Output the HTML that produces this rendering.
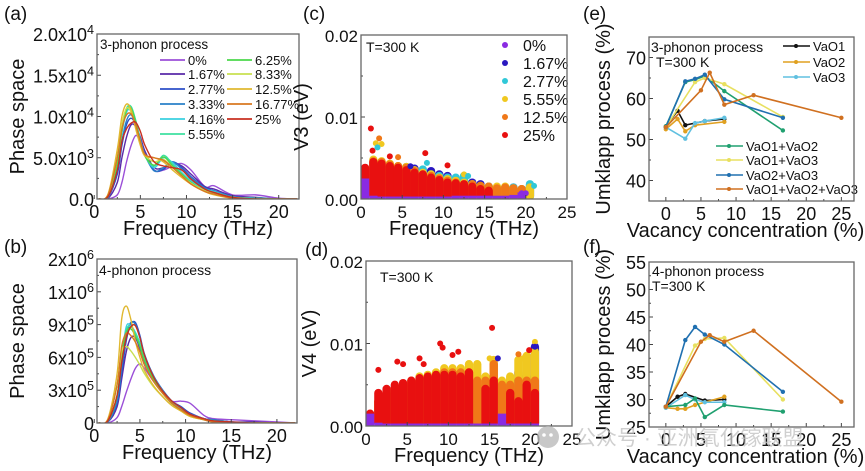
<!DOCTYPE html>
<html><head><meta charset="utf-8"><style>
html,body{margin:0;padding:0;background:#fff;}
svg{display:block;font-family:"Liberation Sans","Noto Sans CJK SC",sans-serif;}
</style></head><body>
<svg id="fig" width="865" height="471" viewBox="0 0 865 471">
<g id="root"></g>
<text x="575" y="445" font-size="21" fill="#c4c4c4" opacity="0.8">公众号 · 亚洲氧化镓联盟</text>
<g opacity="0.8"><circle cx="548" cy="437" r="11" fill="#bbb"/><circle cx="544" cy="435" r="1.8" fill="#fff"/><circle cx="551" cy="435" r="1.8" fill="#fff"/></g>
</svg>
<script>
// ---------- DATA ----------
const freqGrid=[0.5,1.5,2.5,3,3.5,4,4.5,5,5.5,6.5,7.5,8.5,9.5,10.5,12,13,15,17.5,20,22];
const concLabels=["0%","1.67%","2.77%","3.33%","4.16%","5.55%","6.25%","8.33%","12.5%","16.77%","25%"];
const concColors=["#9b4fd8","#5a2aa8","#2d4fc8","#2a80c8","#3ad0e0","#3ee0a0","#4cd84c","#c8e050","#e0b830","#d87820","#c83020"];
const psA0=[0,0,0.5,2,4.5,6.5,7.7,7,5.5,3.5,3.5,4,4.3,3.5,1.5,1.6,0.5,0.5,0.1,0];
const psA1=[0,0.1,2,5,7.5,9,8.8,7.5,5.8,3.8,3.8,4.3,4,3,1.5,1.2,0.4,0.2,0,0];
const psA2=[0,0.2,3,6.5,9,9.8,9,7.2,5.5,3.5,3.6,4.5,3.8,2.7,1.4,1,0.3,0.1,0,0];
const psA3=[0,0.2,3.5,7,9.5,10.2,9,7,5.3,3.4,3.8,4.5,3.6,2.6,1.3,1,0.3,0.1,0,0];
const psA4=[0,0.3,4,8,10.5,10.8,9.5,7.2,5.3,3.8,5,4.4,3.2,2.2,1.2,0.9,0.2,0.1,0,0];
const psA5=[0,0.3,4.5,8.5,11,11.2,9.5,7,5.2,4,5.3,4.2,3,2,1,0.8,0.2,0.1,0,0];
const psA6=[0,0.3,4.3,8.3,10.8,11,9.3,7,5.2,4.1,5.1,4,3,2,1,0.7,0.2,0,0,0];
const psA7=[0,0.4,5,9,11,10.5,8.8,6.8,5.3,4.5,4.8,3.8,2.8,1.9,1,0.6,0.2,0,0,0];
const psA8=[0,0.6,6,10,11.5,10.8,8.5,6.5,5.2,5,4.5,3.5,2.6,1.8,0.9,0.5,0.1,0,0,0];
const psA9=[0,0.5,5,8.5,10.2,10.3,9,7,5.4,5,4.7,3.8,2.8,1.8,0.9,0.6,0.1,0,0,0];
const psA10=[0,0.3,3.5,7,8.5,9.2,9.3,8.2,6.5,4.5,4,3.8,3.5,2.4,1.2,0.8,0.2,0,0,0];
const psB0=[0,0,0.5,1.5,2.8,4,5,5.4,5,3.8,2.8,2,2,1.8,0.7,0.4,0.3,0.2,0.1,0];
const psB1=[0,0.1,1.5,4,6.5,7.8,7.8,6.8,5.6,4,2.8,1.8,1.4,0.9,0.4,0.3,0.1,0.1,0,0];
const psB2=[0,0.1,1.8,4.5,7.5,9,9.2,8,6.3,4.3,3,2,1.5,0.9,0.4,0.3,0.1,0,0,0];
const psB3=[0,0.1,2,5,8,9.2,9,7.8,6.2,4.3,3,2,1.4,0.8,0.4,0.3,0.1,0,0,0];
const psB4=[0,0.2,2.5,6,8.8,8.9,8.3,7.3,6,4.2,2.9,1.9,1.3,0.8,0.4,0.2,0.1,0,0,0];
const psB5=[0,0.2,2.5,6,8.5,8.8,8.2,7.2,5.8,4,2.8,1.8,1.2,0.7,0.3,0.2,0,0,0,0];
const psB6=[0,0.2,2.5,6,8.3,8.6,8,7,5.7,4,2.7,1.8,1.2,0.7,0.3,0.2,0,0,0,0];
const psB7=[0,0.3,3.5,6.5,7,6.6,6,5.3,4.5,3.3,2.4,1.6,1.1,0.6,0.3,0.1,0,0,0,0];
const psB8=[0,0.4,4.5,9.5,10.7,9.5,7.5,6,4.8,3.4,2.4,1.6,1.1,0.6,0.3,0.1,0,0,0,0];
const psB9=[0,0.3,3.5,7,8.2,8,7.4,6.5,5.3,3.8,2.7,1.8,1.2,0.7,0.3,0.1,0,0,0,0];
const psB10=[0,0.2,2.5,5.5,7.8,8.8,8.9,7.8,6.2,4.2,2.9,2,1.4,0.8,0.4,0.2,0.1,0,0,0];
const psA=[psA0,psA1,psA2,psA3,psA4,psA5,psA6,psA7,psA8,psA9,psA10];
const psB=[psB0,psB1,psB2,psB3,psB4,psB5,psB6,psB7,psB8,psB9,psB10];
const ticksA=["0.0","5.0x10<3>","1.0x10<4>","1.5x10<4>","2.0x10<4>"];
const ticksB=["0","3x10<5>","6x10<5>","9x10<5>","1x10<6>","2x10<6>"];

const binF=[0.5,1.5,2.5,3.5,4.5,5.5,6.5,7.5,8.5,9.5,10.5,11.5,12.5,13.5,14.5,15.5,16.5,17.5,18.5,19.5,20.5];
const scLabels=["0%","1.67%","2.77%","5.55%","12.5%","25%"];
const scColors=["#8a2be2","#2a18c0","#30c8d8","#f0c820","#f07818","#e81010"];
const v3_0=[2.5,0.4,0.3,0.3,0.3,0.3,0.3,0.3,0.3,0.3,0.3,0.4,0.4,0.4,0.4,0.4,0.4,0.4,0.5,0.8,0];
const v3_1=[2,3.5,3.8,4,3.9,3.9,3.7,3.5,3.4,3,2.8,2.4,2.2,2,1.8,1.5,1.4,1.4,1.4,1.2,1.5];
const v3_2=[2,3.4,3.7,3.8,3.6,3.5,3.3,3.6,3,2.8,2.6,2.6,2.8,1.8,1.5,1.5,1.4,1.4,1.4,1.2,1.8];
const v3_3=[3,4.8,4.6,4.3,4,3.9,3.5,3.2,3,2.6,2.4,2.2,2,1.8,1.6,1.5,1.5,1.5,1.3,1.2,1.4];
const v3_4=[3,4.6,4.5,4.2,4,3.8,3.4,3,2.8,2.5,2.2,2,1.8,1.8,1.6,1.5,1.3,1.4,1.3,1.2,0];
const v3_5=[3.8,4.5,4.3,4,3.8,3.5,3.2,3,2.6,2.3,2,1.9,1.8,1.5,1.2,1,0,0,0,0,0];
const v3=[v3_0,v3_1,v3_2,v3_3,v3_4,v3_5];
const v3OutF=[1.2,1.4,2.2,1.8,2.5,2.0,3.5,4.5,7.8,8,10.5,6,12.5,13,21,19.5,20];
const v3OutV=[8.6,5.9,7.4,6.8,6.7,6.3,5.2,5.1,5.6,4.4,4.1,4,3,2.8,1.6,0.7,0.7];
const v3OutS=[5,5,4,3,3,2,5,4,5,2,5,1,3,2,2,0,0];
const v4_0=[1.5,0.4,0.3,0.3,0.3,0.3,0.3,0.3,0.3,0.3,0.3,0.3,0.3,0.3,0.3,0.3,1.5,0.3,0.3,0.3,0.3];
const v4_1=[0.5,3,3.5,4,4,4,4,4,4,4.5,4.5,6.5,5.5,5,5,7.5,4,5.5,6.5,6,9.6];
const v4_2=[0,0,0,0,0,0,0,0,0,0,0,0,0,0,0,0,0,5,5.5,5.5,5];
const v4_3=[1,3,4,4.5,5,5.5,6,6.2,6.5,7,7,7,7.5,7.5,6,8,5.5,6,8,8.5,9];
const v4_4=[1,3,4,4.5,5,5.2,5.5,5.8,6,6.5,6.5,6.5,6.5,5.5,5.5,7.5,5,5,5.5,5.5,5.5];
const v4_5=[1.5,4,4.5,5,5.2,5.5,5.8,6,6.2,6.2,6.2,6,6.5,0,4.5,5.5,0,4,3,5,4];
const v4=[v4_0,v4_1,v4_2,v4_3,v4_4,v4_5];
const v4OutF=[1.5,3.8,4.5,6.5,7,9,9.3,10.5,11.2,15.3,19.8,20.5,19,15,20.5,16,18.5];
const v4OutV=[6.8,7.8,7.5,8.2,7.5,10,9.5,8.6,9,11.9,9.2,10.2,8.2,8.2,9.6,8.2,8.7];
const v4OutS=[5,5,5,5,5,5,5,5,5,5,5,3,3,3,1,1,4];

const umkLabels=["VaO1","VaO2","VaO3","VaO1+VaO2","VaO1+VaO3","VaO2+VaO3","VaO1+VaO2+VaO3"];
const umkColors=["#111111","#e0a020","#60c0e0","#20a070","#e8e060","#2070b0","#d07020"];
const umkX0=[0,1.67,2.77,5.55,8.33], umkE0=[53.2,57,53.5,54.5,55], umkF0=[28.7,30.5,31,29.8,30];
const umkX1=[0,1.67,2.77,4.16,8.33], umkE1=[52.5,55,52,53.5,54.3], umkF1=[28.5,28.3,28.3,29,30.5];
const umkX2=[0,2.77,4.16,5.55,8.33], umkE2=[53,50.2,54,54.5,55.3], umkF2=[28.5,30.8,30,29.5,29.5];
const umkX3=[0,2.77,4.16,5.55,8.33,16.67], umkE3=[53.2,64,64.6,65.5,61.8,52.2], umkF3=[28.7,29,30.2,26.8,29,27.8];
const umkX4=[0,4.16,5.55,8.33,16.67], umkE4=[53,64,65,63.5,55.5], umkF4=[28.7,39.8,41,41.2,30];
const umkX5=[0,2.77,4.16,5.55,8.33,16.67], umkE5=[53,64.2,64.8,65.8,59.8,55.3], umkF5=[28.7,40.8,43.2,41.8,40,31.4];
const umkX6=[0,5,6.25,8.33,12.5,25], umkE6=[53,62,66.3,58.5,60.8,55.3], umkF6=[28.7,40.5,41.7,40.5,42.5,29.6];
const umkX=[umkX0,umkX1,umkX2,umkX3,umkX4,umkX5,umkX6];
const umkE=[umkE0,umkE1,umkE2,umkE3,umkE4,umkE5,umkE6];
const umkF=[umkF0,umkF1,umkF2,umkF3,umkF4,umkF5,umkF6];

// ---------- DRAW ----------
const NS="http://www.w3.org/2000/svg";
const root=document.getElementById('root');
function mk(tag,attrs,parent){const e=document.createElementNS(NS,tag);for(const k in attrs)e.setAttribute(k,attrs[k]);(parent||root).appendChild(e);return e;}
function txt(x,y,s,size,anchor,parent,name){const t=mk('text',{x:x,y:y,'font-size':size,'text-anchor':anchor||'start',fill:'#111'},parent);
 
 
 const m=s.match(/^(.*)<(.+)>$/);
 if(m){t.textContent=m[1];const sp=document.createElementNS(NS,'tspan');sp.setAttribute('dy',-7);sp.setAttribute('font-size',size*0.7);sp.textContent=m[2];t.appendChild(sp);}else t.textContent=s;return t;}
function smooth(pts){let d='M'+pts[0][0]+','+pts[0][1];for(let i=0;i<pts.length-1;i++){const p0=pts[i-1]||pts[i],p1=pts[i],p2=pts[i+1],p3=pts[i+2]||p2;
 const c1=[p1[0]+(p2[0]-p0[0])/6,p1[1]+(p2[1]-p0[1])/6],c2=[p2[0]-(p3[0]-p1[0])/6,p2[1]-(p3[1]-p1[1])/6];
 d+=' C'+c1[0]+','+c1[1]+' '+c2[0]+','+c2[1]+' '+p2[0]+','+p2[1];}return d;}

function panel(o){
 const g=mk('g',{});
 
 
 const fs=o.fs||18;
 const sx=v=>o.x0+(v-o.xmin)/(o.xmax-o.xmin)*(o.x1-o.x0);
 const sy=v=>o.y1-(v-o.ymin)/(o.ymax-o.ymin)*(o.y1-o.y0);
 const clipId='clip'+o.name;
 const cp=mk('clipPath',{id:clipId},g);mk('rect',{x:o.x0,y:o.y0,width:o.x1-o.x0,height:o.y1-o.y0},cp);
 const plot=mk('g',{'clip-path':'url(#'+clipId+')'},g);
 
 
 o.xticks.forEach(v=>{const X=sx(v);mk('line',{x1:X,x2:X,y1:o.y1,y2:o.y1-4,stroke:'#444','stroke-width':1},g);
   txt(X,o.y1+19,String(v),fs,'middle',g,'x-tick-label');});
 o.xticks.slice(0,-1).forEach((v,i)=>{const X=sx((v+o.xticks[i+1])/2);mk('line',{x1:X,x2:X,y1:o.y1,y2:o.y1-2,stroke:'#444'},g);});
 o.yticks.forEach((v,i)=>{const Y=sy(v);mk('line',{x1:o.x0,x2:o.x0+4,y1:Y,y2:Y,stroke:'#444'},g);
   txt(o.x0-3,Y+7,o.ylabels[i],fs,'end',g,'y-tick-label');});
 o.yticks.slice(0,-1).forEach((v,i)=>{const Y=sy((v+o.yticks[i+1])/2);mk('line',{x1:o.x0,x2:o.x0+2,y1:Y,y2:Y,stroke:'#444'},g);});
 txt((o.x0+o.x1)/2+(o.xtOff||0),o.y1+36,o.xtitle,20,'middle',g,'x-axis-title');
 const yt=txt(0,0,o.ytitle,20,'middle',g,'y-axis-title');
 yt.setAttribute('transform','translate('+o.ytx+','+((o.y0+o.y1)/2)+') rotate(-90)');
 txt(o.px,o.py,o.plabel,19,'start',g,'panel-label');
 o.draw(plot,sx,sy,g);
 mk('rect',{x:o.x0,y:o.y0,width:o.x1-o.x0,height:o.y1-o.y0,fill:'none',stroke:'#666','stroke-width':1.3},g);
}

function psDraw(series){return (p,sx,sy)=>{series.forEach((s,i)=>{const pts=freqGrid.map((f,j)=>[sx(f),sy(s[j])]);
  const path=mk('path',{d:smooth(pts),fill:'none',stroke:concColors[i],'stroke-width':1.4},p);
  
  });};}

panel({name:'panel-a',x0:97,x1:299,y0:34,y1:199,xmin:0.3,xmax:22.2,ymin:0,ymax:20,xticks:[0,5,10,15,20],yticks:[0,5,10,15,20],ylabels:ticksA,
 xtitle:'Frequency (THz)',ytitle:'Phase space',ytx:24,px:4,py:20,plabel:'(a)',draw:(p,sx,sy,g)=>{psDraw(psA)(p,sx,sy);
 txt(100,49,'3-phonon process',13.5,'start',g,'legend-title');
 concLabels.forEach((l,i)=>{const col=i<6?0:1,row=i<6?i:i-6;const lx=col?227:160,ly=[60,74,89,104,119,134][row];
  const ln=mk('line',{x1:lx,x2:lx+25,y1:ly,y2:ly,stroke:concColors[i],'stroke-width':1.8},g);
  
  txt(lx+28,ly+5,l,13,'start',g,'legend-entry');});}});

panel({name:'panel-b',x0:97,x1:297,y0:259,y1:423,xmin:0.3,xmax:22.2,ymin:0,ymax:15,xticks:[0,5,10,15,20],yticks:[0,3,6,9,12,15],ylabels:ticksB,
 xtitle:'Frequency (THz)',ytitle:'Phase space',ytx:24,px:4,py:253,plabel:'(b)',draw:(p,sx,sy,g)=>{psDraw(psB)(p,sx,sy);
 txt(99,275,'4-phonon process',14,'start',g,'legend-title');}});

function scDraw(env,oF,oV,oS,order){return (p,sx,sy)=>{const w=8.3;
 order.forEach(i=>{env[i].forEach((v,j)=>{if(v<=0)return;const X=sx(binF[j]);const isBase=(i===0);
  const ln=mk('line',{x1:X,x2:X,y1:sy(isBase?0:0.35),y2:sy(v),stroke:scColors[i],'stroke-width':w,'stroke-linecap':isBase?'butt':'round'},p);
  });});
 oF.forEach((f,k)=>{const c=mk('circle',{cx:sx(f),cy:sy(oV[k]),r:3,fill:scColors[oS[k]]},p);
  });};}

panel({name:'panel-c',fs:17,x0:361,x1:567,y0:35,y1:199,xmin:0,xmax:25,ymin:0,ymax:20,xticks:[0,5,10,15,20,25],yticks:[0,10,20],ylabels:['0.00','0.01','0.02'],
 xtitle:'Frequency (THz)',ytitle:'V3 (eV)',ytx:308,px:303,py:20,plabel:'(c)',draw:(p,sx,sy,g)=>{scDraw(v3,v3OutF,v3OutV,v3OutS,[1,2,3,4,5,0])(p,sx,sy);
 txt(366,52,'T=300 K',14,'start',g,'annotation');
 scLabels.forEach((l,i)=>{const ly=45+i*18;const c=mk('circle',{cx:505,cy:ly,r:3,fill:scColors[i]},g);
  
  txt(523,ly+6,l,16,'start',g,'legend-entry');});}});

panel({name:'panel-d',fs:17,x0:366,x1:572,y0:261,y1:426,xmin:0,xmax:25,ymin:0,ymax:20,xticks:[0,5,10,15,20,25],yticks:[0,10,20],ylabels:['0.00','0.01','0.02'],
 xtitle:'Frequency (THz)',ytitle:'V4 (eV)',ytx:316,px:305,py:256,plabel:'(d)',draw:(p,sx,sy,g)=>{scDraw(v4,v4OutF,v4OutV,v4OutS,[2,1,3,4,5,0])(p,sx,sy);
 txt(380,282,'T=300 K',14,'start',g,'annotation');}});

function umkDraw(vals,which){return (p,sx,sy,g)=>{vals.forEach((s,i)=>{const pts=umkX[i].map((x,j)=>sx(x)+','+sy(s[j])).join(' ');
 const pl=mk('polyline',{points:pts,fill:'none',stroke:umkColors[i],'stroke-width':1.6},p);
 
 umkX[i].forEach((x,j)=>{const c=mk('circle',{cx:sx(x),cy:sy(s[j]),r:2.2,fill:umkColors[i]},p);
  });});
 if(which==='e'){txt(651,52,'3-phonon process',14,'start',g,'annotation');txt(656,67,'T=300 K',14,'start',g,'annotation');
  umkLabels.forEach((l,i)=>{const top=i<3;const lx=top?783:716,ly=top?[46,62,77][i]:[146,160,175,189][i-3];
   const ln=mk('line',{x1:lx,x2:lx+27,y1:ly,y2:ly,stroke:umkColors[i],'stroke-width':1.6},g);
   
   mk('circle',{cx:lx+13,cy:ly,r:2,fill:umkColors[i]},g);
   txt(lx+30,ly+5,l,13,'start',g,'legend-entry');});}
 else{txt(652,276,'4-phonon process',14,'start',g,'annotation');txt(652,291,'T=300 K',14,'start',g,'annotation');}};}

panel({name:'panel-e',x0:649,x1:854,y0:37,y1:201,xmin:-2.4,xmax:26.8,ymin:35,ymax:75,xticks:[0,5,10,15,20,25],yticks:[40,50,60,70],ylabels:['40','50','60','70'],
 xtitle:'Vacancy concentration (%)',xtOff:-6,ytitle:'Umklapp process (%)',ytx:610,px:583,py:20,plabel:'(e)',draw:umkDraw(umkE,'e')});
panel({name:'panel-f',x0:649,x1:854,y0:262,y1:427,xmin:-2.4,xmax:26.8,ymin:25,ymax:55,xticks:[0,5,10,15,20,25],yticks:[25,30,35,40,45,50,55],ylabels:['25','30','35','40','45','50','55'],
 xtitle:'Vacancy concentration (%)',xtOff:-6,ytitle:'Umklapp process (%)',ytx:610,px:583,py:253,plabel:'(f)',draw:umkDraw(umkF,'f')});
</script>
</body></html>
